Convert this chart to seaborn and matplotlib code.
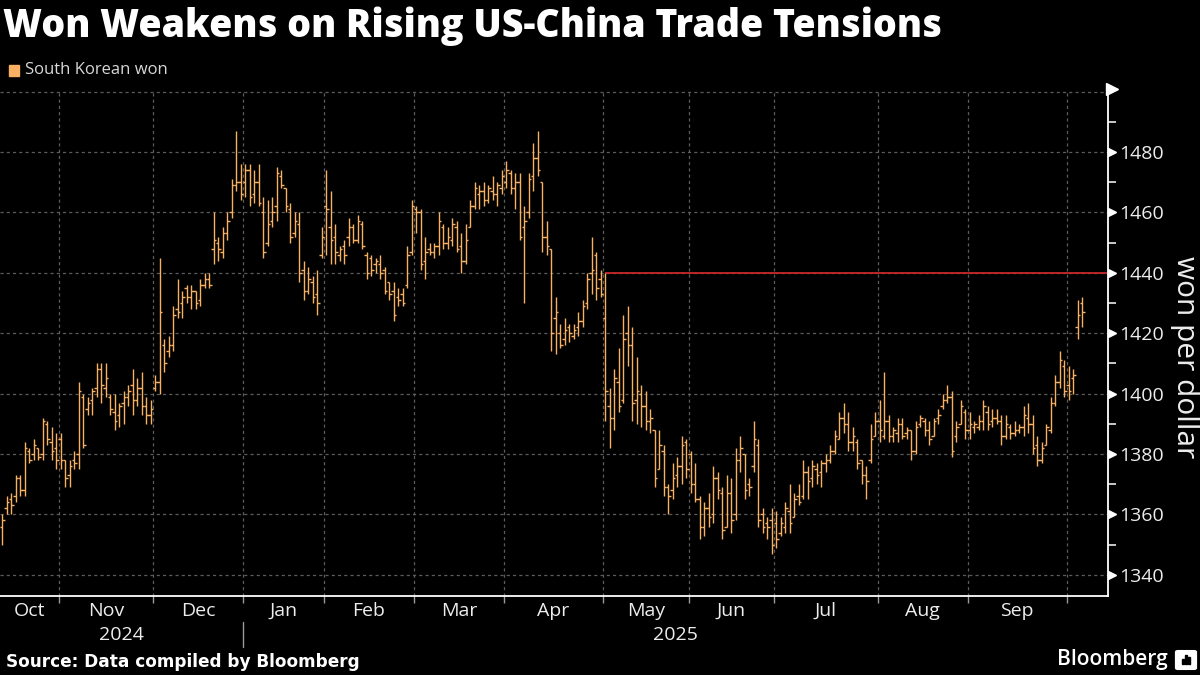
import matplotlib
matplotlib.use("Agg")
import matplotlib.pyplot as plt
import matplotlib.transforms as mtransforms
from matplotlib.patches import Rectangle, FancyBboxPatch
import seaborn as sns
import numpy as np
import pandas as pd

# ---------------- data: daily (open, high, low, close), USD/KRW ----------------
oct_2024 = [(1356,1360,1350,1358),(1362,1366,1360,1364),(1365,1367,1360,1363),(1366,1373,1364,1372),
            (1372,1373,1366,1368),(1368,1384,1366,1382),(1381,1382,1377,1378),(1380,1385,1378,1383),
            (1382,1382,1378,1379),(1380,1392,1378,1391),(1390,1391,1383,1385),(1384,1389,1378,1381),
            (1382,1387,1375,1378)]
nov_2024 = [(1385,1387,1375,1378),(1378,1378,1369,1372),(1373,1378,1369,1376),(1378,1381,1375,1377),
            (1380,1404,1375,1401),(1399,1400,1382,1383),(1395,1399,1393,1397),(1398,1402,1393,1401),
            (1402,1410,1399,1408),(1408,1410,1397,1403),(1402,1410,1399,1405),(1399,1400,1393,1395),
            (1394,1400,1388,1391),(1393,1397,1389,1396),(1397,1401,1390,1399),(1399,1403,1396,1401),
            (1403,1408,1393,1398),(1398,1405,1396,1402),(1402,1407,1393,1396),(1396,1399,1390,1393),
            (1393,1398,1390,1395)]
dec_2024 = [(1402,1406,1401,1404),(1404,1445,1400,1427),(1416,1418,1407,1410),(1414,1419,1412,1416),
            (1416,1429,1414,1426),(1428,1438,1425,1427),(1430,1434,1425,1432),(1435,1436,1430,1432),
            (1432,1436,1428,1434),(1434,1434,1428,1430),(1431,1438,1429,1436),(1436,1440,1435,1438),
            (1438,1440,1435,1436),(1448,1460,1443,1451),(1450,1452,1444,1448),(1447,1455,1445,1453),
            (1453,1460,1451,1457),(1460,1471,1458,1469),(1469,1487,1467,1470),(1470,1476,1464,1466)]
jan_2025 = [(1470,1476,1465,1474),(1474,1476,1462,1465),(1466,1474,1463,1470),(1470,1476,1462,1463),
            (1460,1465,1445,1447),(1450,1464,1449,1456),(1457,1465,1455,1460),(1462,1475,1457,1473),
            (1472,1474,1468,1469),(1468,1468,1460,1462),(1461,1463,1450,1452),(1453,1460,1452,1457),
            (1456,1460,1437,1440),(1441,1444,1431,1434),(1434,1442,1433,1438),(1437,1439,1430,1432),
            (1433,1441,1426,1430),(1446,1455,1445,1452)]
feb_2025 = [(1462,1474,1446,1461),(1455,1467,1443,1451),(1452,1456,1443,1447),(1446,1449,1444,1448),
            (1449,1451,1443,1446),(1452,1458,1449,1455),(1455,1456,1450,1451),(1451,1459,1450,1457),
            (1456,1457,1448,1449),(1446,1447,1438,1440),(1445,1446,1439,1441),(1443,1445,1440,1444),
            (1443,1446,1438,1440),(1441,1442,1433,1434),(1437,1437,1431,1433),(1434,1437,1424,1426),
            (1432,1435,1429,1431),(1433,1435,1429,1430),(1436,1449,1435,1446),(1447,1464,1446,1462)]
mar_2025 = [(1461,1462,1453,1460),(1460,1461,1441,1443),(1444,1452,1438,1447),(1448,1450,1446,1447),
            (1447,1450,1445,1449),(1449,1460,1446,1457),(1455,1456,1448,1450),(1450,1455,1448,1452),
            (1451,1458,1449,1456),(1455,1457,1447,1448),(1449,1453,1440,1444),(1444,1456,1443,1451),
            (1455,1464,1455,1462),(1462,1470,1461,1468),(1466,1469,1461,1467),(1467,1470,1462,1464),
            (1464,1469,1463,1468),(1467,1472,1464,1466),(1466,1470,1462,1469),(1468,1474,1466,1472)]
apr_2025 = [(1470,1477,1468,1474),(1473,1474,1466,1468),(1468,1473,1461,1470),(1470,1473,1451,1452),
            (1455,1462,1430,1457),(1460,1473,1458,1471),(1472,1483,1467,1478),(1478,1487,1472,1474),
            (1470,1470,1447,1452),(1452,1457,1446,1449),(1448,1448,1414,1420),(1425,1432,1413,1427),
            (1420,1423,1415,1416),(1418,1425,1416,1421),(1422,1423,1417,1420),(1419,1423,1418,1421),
            (1422,1427,1419,1424),(1424,1431,1422,1429),(1430,1440,1428,1438),(1440,1452,1433,1441),
            (1446,1447,1431,1435),(1438,1441,1432,1433)]
may_2025 = [(1425,1440,1391,1401),(1396,1402,1382,1392),(1392,1408,1388,1405),(1404,1415,1394,1396),
            (1398,1426,1397,1418),(1420,1429,1409,1416),(1416,1422,1391,1397),(1398,1412,1390,1401),
            (1400,1403,1389,1396),(1396,1401,1388,1391),(1391,1395,1387,1392),(1388,1388,1369,1372),
            (1375,1388,1375,1383),(1381,1383,1366,1369),(1369,1370,1360,1366),(1368,1377,1365,1372),
            (1373,1379,1369,1376),(1376,1386,1370,1383),(1384,1385,1372,1375)]
jun_2025 = [(1380,1381,1367,1370),(1370,1377,1364,1365),(1365,1366,1352,1356),(1356,1364,1353,1362),
            (1362,1367,1356,1359),(1360,1376,1357,1372),(1372,1374,1365,1368),(1367,1369,1352,1355),
            (1356,1373,1356,1367),(1367,1372,1354,1358),(1360,1382,1358,1378),(1378,1386,1374,1382),
            (1380,1380,1365,1368),(1370,1372,1366,1369),(1376,1391,1374,1385),(1383,1385,1356,1358),
            (1360,1362,1354,1356),(1357,1359,1352,1356),(1358,1362,1347,1350)]
jul_2025 = [(1357,1361,1349,1352),(1354,1359,1353,1357),(1356,1364,1354,1362),(1361,1370,1354,1357),
            (1359,1367,1359,1365),(1366,1370,1363,1364),(1366,1378,1365,1374),(1374,1376,1365,1371),
            (1372,1378,1369,1376),(1375,1377,1370,1373),(1374,1378,1369,1377),(1377,1380,1374,1378),
            (1378,1383,1377,1381),(1381,1388,1380,1386),(1385,1394,1385,1392),(1392,1397,1387,1390),
            (1390,1394,1381,1384),(1384,1389,1381,1386),(1384,1385,1375,1377),(1378,1378,1370,1373),
            (1373,1376,1365,1371),(1378,1390,1377,1385),(1386,1394,1386,1391)]
aug_2025 = [(1391,1398,1384,1388),(1386,1407,1385,1391),(1391,1393,1384,1386),(1386,1389,1384,1388),
            (1387,1392,1384,1390),(1390,1392,1385,1386),(1387,1389,1385,1388),(1388,1388,1378,1381),
            (1381,1391,1380,1389),(1390,1393,1389,1392),(1391,1392,1386,1388),(1388,1391,1383,1385),
            (1386,1392,1386,1391),(1392,1395,1390,1393),(1396,1400,1395,1398),(1398,1403,1397,1399),
            (1399,1401,1379,1381),(1386,1391,1384,1389),(1390,1398,1390,1396),(1394,1395,1385,1388)]
sep_2025 = [(1388,1394,1385,1390),(1389,1391,1387,1390),(1389,1393,1388,1391),(1391,1398,1388,1396),
            (1394,1396,1388,1390),(1391,1395,1389,1392),(1392,1395,1390,1391),(1391,1393,1383,1386),
            (1386,1393,1385,1390),(1389,1390,1385,1387),(1387,1391,1386,1388),(1388,1390,1387,1389),
            (1389,1396,1386,1393),(1392,1397,1387,1390),(1390,1393,1380,1382),(1383,1386,1376,1378),
            (1378,1384,1377,1382),(1383,1390,1383,1389),(1388,1399,1387,1397),(1397,1406,1396,1404),
            (1404,1414,1402,1411),(1409,1411,1399,1401)]
oct_2025 = [(1403,1409,1398,1401),(1405,1408,1400,1406),(1422,1431,1418,1426),(1430,1432,1422,1427)]

month_labels = ["Oct", "Nov", "Dec", "Jan", "Feb", "Mar", "Apr", "May", "Jun", "Jul", "Aug", "Sep", ""]
month_data = [oct_2024, nov_2024, dec_2024, jan_2025, feb_2025, mar_2025, apr_2025,
              may_2025, jun_2025, jul_2025, aug_2025, sep_2025, oct_2025]
year_labels = ["2024", "2025"]
ytick_values = [1340, 1360, 1380, 1400, 1420, 1440, 1460, 1480]
reference_level = 1440
series_name = "South Korean won"

rows = []
for m, bars in enumerate(month_data):
    for (o, h, l, c) in bars:
        rows.append((m, o, h, l, c))
df = pd.DataFrame(rows, columns=["month", "open", "high", "low", "close"])
df["idx"] = np.arange(len(df))

counts = [len(b) for b in month_data]
starts = np.concatenate([[0], np.cumsum(counts)[:-1]])
boundaries = starts[1:] - 0.5

# ---------------- style ----------------
sns.set_theme(style="dark", rc={"axes.facecolor": "black", "figure.facecolor": "black"})
plt.rcParams["font.family"] = ["Open Sans", "DejaVu Sans"]

ORANGE = "#F8B063"
WHITE = "#FFFFFF"
GRID = "#5c5c5c"

fig = plt.figure(figsize=(12, 6.75), dpi=100)
W, H = 1200, 675
ax = fig.add_axes([0, 1 - 596 / H, 1108 / W, 506 / H])
ax.set_facecolor("black")

XMAX = 1108 / 4.5 - 0.5
ax.set_xlim(-0.5, XMAX)
ax.set_ylim(1333, 1500.5)

# grid
for b in boundaries:
    ax.axvline(b, color=GRID, lw=0.9, ls=(0, (2.5, 2.5)), zorder=1)
for v in ytick_values + [1500]:
    ax.axhline(v, color=GRID, lw=0.9, ls=(0, (2.5, 2.5)), zorder=1)

# OHLC bars
ax.vlines(df["idx"], df["low"], df["high"], color=ORANGE, lw=1.0, zorder=3)
ax.hlines(df["open"], df["idx"] - 0.6, df["idx"], color=ORANGE, lw=1.0, zorder=3)
ax.hlines(df["close"], df["idx"], df["idx"] + 0.6, color=ORANGE, lw=1.0, zorder=3)

# red reference line from May onwards
ax.hlines(reference_level, starts[7], XMAX, color="#C8282C", lw=1.3, zorder=2)

# spines
for s in ["top", "left"]:
    ax.spines[s].set_visible(False)
for s in ["right", "bottom"]:
    ax.spines[s].set_visible(True)
    ax.spines[s].set_color(WHITE)
    ax.spines[s].set_linewidth(1.3)

# y axis on right
ax.yaxis.tick_right()
ax.set_yticks(ytick_values)
ax.set_yticks(np.arange(1340, 1500, 10), minor=True)
ax.tick_params(axis="y", which="major", length=0, pad=8, labelsize=14, labelcolor="#EDEDED")
ax.tick_params(axis="y", which="minor", length=6, width=1.1, color=WHITE, direction="out", right=True, left=False)
off = mtransforms.offset_copy(ax.get_yaxis_transform(), fig=fig, x=3.5, y=0, units="dots")
ax.plot([1] * len(ytick_values), ytick_values, ls="none", marker=">", ms=5.5, color=WHITE,
        transform=off, clip_on=False, zorder=5)
off_top = mtransforms.offset_copy(ax.transAxes, fig=fig, x=4, y=1, units="dots")
ax.plot([1], [1], marker=">", ms=8, color=WHITE, transform=off_top, clip_on=False, zorder=5)

# x axis: labels at month centers, tick marks at boundaries
centers = [(max(s - 0.5, -0.5) + min(s + n - 0.5, XMAX)) / 2 for s, n in zip(starts, counts)]
ax.set_xticks(centers)
ax.set_xticklabels(month_labels)
ax.set_xticks(boundaries, minor=True)
ax.tick_params(axis="x", which="major", length=0, pad=4, labelsize=14, labelcolor="#EDEDED")
ax.tick_params(axis="x", which="minor", length=5, width=1, color="#9a9a9a", direction="out", bottom=True)

trans = mtransforms.blended_transform_factory(ax.transData, ax.transAxes)
jan_b = boundaries[2]
ax.text((-0.5 + jan_b) / 2, -0.077, year_labels[0], transform=trans, ha="center", va="center",
        fontsize=14, color="#EDEDED")
ax.text((jan_b + XMAX) / 2, -0.077, year_labels[1], transform=trans, ha="center", va="center",
        fontsize=14, color="#EDEDED")
ax.plot([jan_b, jan_b], [-0.051, -0.101], transform=trans, color="#9a9a9a", lw=1, clip_on=False)

# titles and annotations
fig.text(3 / W, 1 - 37 / H, "Won Weakens on Rising US-China Trade Tensions", fontsize=27,
         fontweight=800, color=WHITE, va="baseline", ha="left")
fig.patches.append(Rectangle((9 / W, 1 - 76 / H), 10 / W, 11 / H, transform=fig.transFigure,
                             color=ORANGE, zorder=5))
fig.text(25 / W, 1 - 70 / H, series_name, fontsize=12, color="#D8D8D8", va="center", ha="left")
fig.text(1185 / W, 1 - 357 / H, "won per dollar", rotation=270, fontsize=21.5, color="#EDEDED",
         ha="center", va="center")
fig.text(6 / W, 1 - 662 / H, "Source: Data compiled by Bloomberg", fontsize=12.2, fontweight="bold",
         color=WHITE, va="center", ha="left", family=["DejaVu Sans"])
fig.text(1168 / W, 1 - 660 / H, "Bloomberg", fontsize=15, fontweight="semibold", color=WHITE,
         va="center", ha="right")
fig.patches.append(FancyBboxPatch((1178 / W, 1 - 668 / H), 16 / W, 16 / H,
                                  boxstyle="round,pad=0.002", transform=fig.transFigure,
                                  color=WHITE, zorder=5))
for i, hgt in enumerate([5, 9, 7]):
    fig.patches.append(Rectangle(((1182 + 3 * i) / W, 1 - 664 / H), 2 / W, hgt / H,
                                 transform=fig.transFigure, color="black", zorder=6))

fig.savefig("out.png", dpi=100, facecolor="black")
